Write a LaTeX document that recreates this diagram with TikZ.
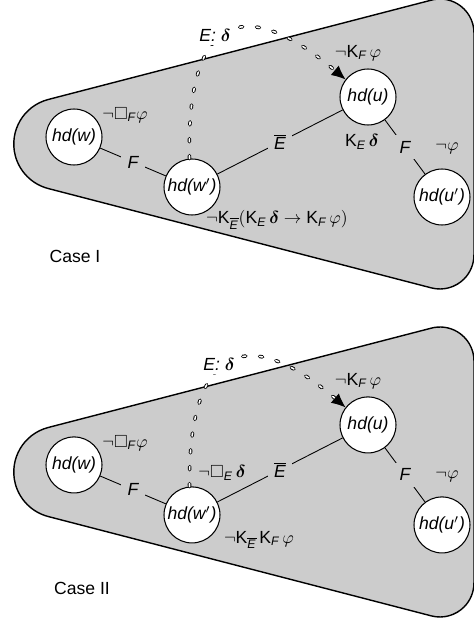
\documentclass[tikz,border=0pt]{standalone}
\usepackage{amsmath}
\usepackage{amssymb}
\usepackage{fontspec}
\setmainfont{Liberation Sans}
\usetikzlibrary{arrows.meta}

\newcommand{\Kop}{\textup{K}}
\newcommand{\ag}[1]{\textit{#1}}

\begin{document}
\begin{tikzpicture}[x=0.02cm,y=0.02cm,
  hull/.style={draw,line width=0.8pt,fill=black!20},
  world/.style={circle,draw,fill=white,line width=0.6pt,minimum size=1.12cm,inner sep=0pt,font=\itshape},
  link/.style={line width=0.5pt},
  edgelab/.style={fill=black!20,inner sep=3.5pt,font=\itshape},
  beads/.style={double=white,double distance=0.9pt,line width=0.55pt,dash pattern=on 1.7pt off 7.9pt,line cap=round},
  tip/.style={-{Latex[length=8pt,width=7pt]}}]
\useasboundingbox (0,0) rectangle (474,620);

\foreach \dy in {0,-328}
  \draw[hull,shift={(0,\dy)}] (474,365) -- (474,587) arc[start angle=0,end angle=104.57,radius=0.68cm]
    -- (48.2,520.5) arc[start angle=104.57,end angle=255.43,radius=0.92cm]
    -- (431.4,332.1) arc[start angle=255.43,end angle=360,radius=0.68cm] -- cycle;

% Case I
\node[world] (w) at (74,483) {hd(w)};
\node[world] (wp) at (192,433) {hd(w$'$)};
\node[world] (u) at (368,523) {hd(u)};
\node[world] (up) at (442,423) {hd(u$'$)};
\draw[link] (w) -- node[edgelab] {F} (wp);
\draw[link] (wp) -- node[edgelab] {$\overline{\mbox{\itshape E}}$} (u);
\draw[link] (u) -- node[edgelab] {F} (up);
\draw[beads,tip] (wp.95) .. controls (186,600) and (240,630) .. (u.142);
\node[fill=white,inner sep=2.5pt] (ed) at (215,585) {\ag{E:} $\boldsymbol{\delta}$};
\node (lw) at (125,505) {$\neg\Box_{\ag{F}}\varphi$};
\node (lu) at (358,567) {$\neg\Kop_{\ag{F}}\,\varphi$};
\node (lke) at (362,478) {$\Kop_{\ag{E}}\,\boldsymbol{\delta}$};
\node (lup) at (447,472) {$\neg\varphi$};
\node (lwp) at (277,400) {$\neg\Kop_{\overline{\ag{E}}}(\Kop_{\ag{E}}\,\boldsymbol{\delta}\rightarrow\Kop_{\ag{F}}\,\varphi)$};
\node (c1) at (75,364) {Case I};

% Case II
\begin{scope}[yshift=-6.56cm]
\node[world] (w2) at (74,483) {hd(w)};
\node[world] (wp2) at (192,433) {hd(w$'$)};
\node[world] (u2) at (368,523) {hd(u)};
\node[world] (up2) at (442,423) {hd(u$'$)};
\draw[link] (w2) -- node[edgelab] {F} (wp2);
\draw[link] (wp2) -- node[edgelab] {$\overline{\mbox{\itshape E}}$} (u2);
\draw[link] (u2) -- node[edgelab] {F} (up2);
\draw[beads,tip] (wp2.95) .. controls (188,598) and (244,628) .. (u2.142);
\node[fill=white,inner sep=2.5pt] (ed2) at (219,584) {\ag{E:} $\boldsymbol{\delta}$};
\node (lw2) at (125,505) {$\neg\Box_{\ag{F}}\varphi$};
\node (lbox2) at (222,475) {$\neg\Box_{\ag{E}}\,\boldsymbol{\delta}$};
\node (lu2) at (358,567) {$\neg\Kop_{\ag{F}}\,\varphi$};
\node (lup2) at (447,472) {$\neg\varphi$};
\node (lwp2) at (259,408) {$\neg\Kop_{\overline{\ag{E}}}\,\Kop_{\ag{F}}\,\varphi$};
\node (c2) at (82,359) {Case II};
\end{scope}
\end{tikzpicture}
\end{document}
